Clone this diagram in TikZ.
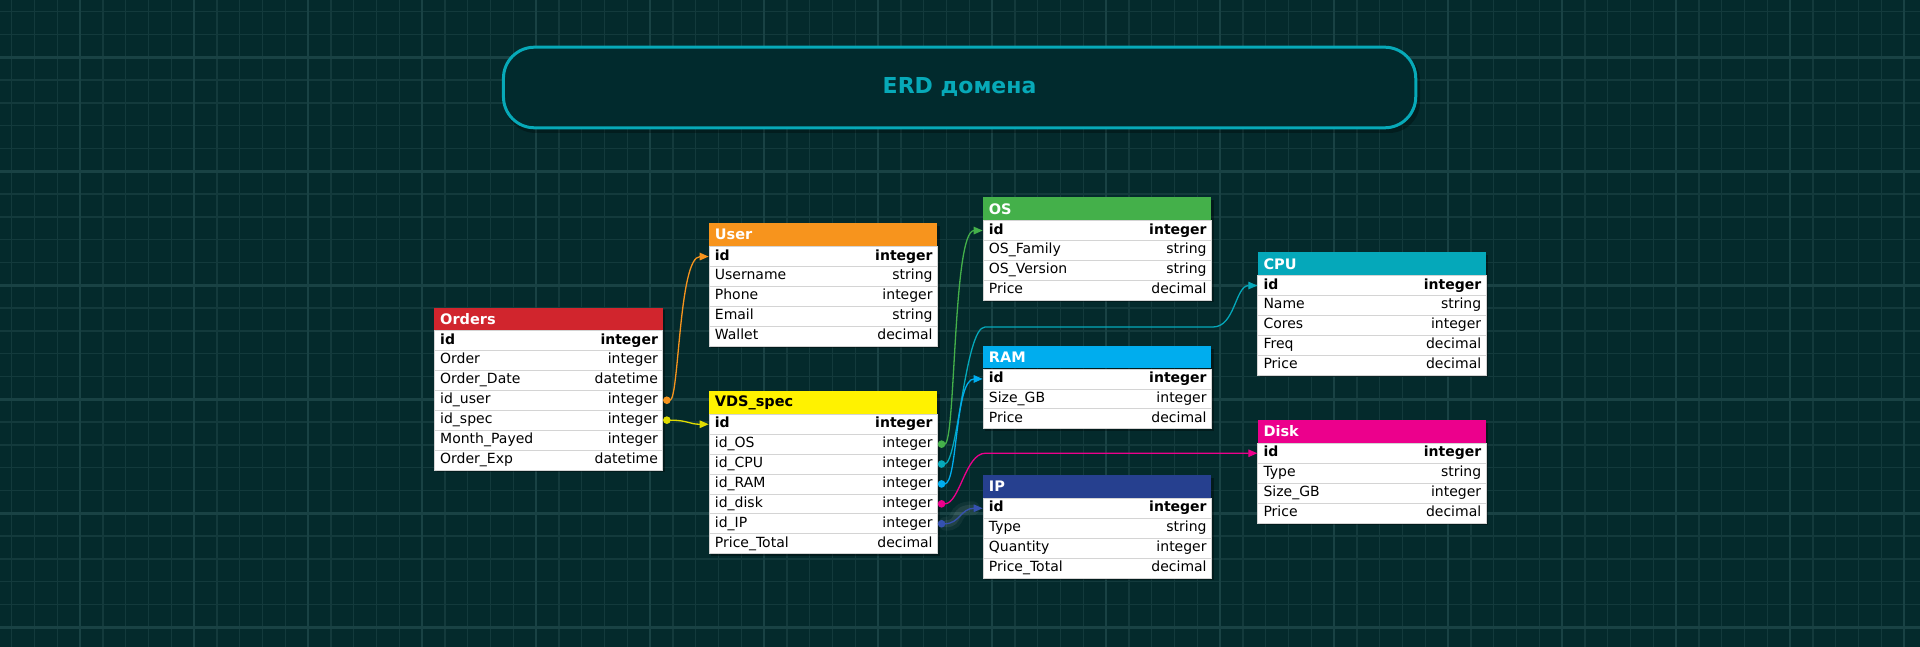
\documentclass[tikz,border=0pt]{standalone}
\usepackage{fontspec}
\setmainfont{DejaVu Sans}
\usetikzlibrary{arrows.meta,calc}
\definecolor{bg}{HTML}{042A2C}
\definecolor{gridminor}{HTML}{133A3C}
\definecolor{gridmajor}{HTML}{194244}
\definecolor{titlec}{HTML}{07A9B8}
\definecolor{titlefill}{HTML}{012A2D}
\definecolor{rowline}{HTML}{D4D4D4}
\definecolor{cred}{HTML}{D1252D}
\definecolor{corange}{HTML}{F7941D}
\definecolor{cyellow}{HTML}{FFF200}
\definecolor{cyline}{HTML}{E0DC00}
\definecolor{cgreen}{HTML}{44B04A}
\definecolor{cteal}{HTML}{05A8BA}
\definecolor{cblue}{HTML}{00ADEE}
\definecolor{cmag}{HTML}{EC008C}
\definecolor{cnavy}{HTML}{26408F}
\definecolor{cnavyline}{HTML}{3551B0}
\tikzset{
  hdr/.style={rectangle, anchor=north west, inner xsep=6pt, inner ysep=0pt,
    text width=216.3pt, minimum height=22.5pt, align=left,
    font=\fontsize{14.5}{16}\selectfont\bfseries},
  rowbox/.style={rectangle, anchor=north west, minimum width=228.3pt,
    minimum height=19.9pt, inner sep=0pt, fill=white, draw=rowline, line width=0.8pt},
  cell/.style={inner sep=0pt, text height=10pt, text depth=3pt, text=black,
    font=\fontsize{14}{15}\selectfont},
  keycell/.style={cell, font=\fontsize{14}{15}\selectfont\bfseries},
  conn/.style={line width=1.3pt, {Circle[length=7.5pt]}-{Triangle[length=9pt,width=7.5pt]}},
  tabshadow/.style={fill=black, opacity=0.35},
  titlebox/.style={rectangle, rounded corners=31pt, draw=titlec, line width=3pt,
    fill=titlefill, minimum width=912.3pt, minimum height=80.6pt, text=titlec,
    font=\fontsize{22}{26}\selectfont\bfseries},
  glow/.style={white, line cap=round}
}
\newcommand\erdtab[7]{% name, x, y, fill, text colour, title, rows
  \fill[tabshadow] ({#2+2.5},{#3+3}) rectangle ({#2+230.8},{#3+3+22.5+19.9*#7});
  \node[hdr, fill=#4, text=#5] (#1) at (#2,#3) {#6};
}
\newcommand\erdrow[5]{% table, index, field, type, style
  \node[rowbox] (#1-r#2) at ($(#1.south west)+(0,{19.9*#2})$) {};
  \node[#5, anchor=west] (#1-r#2-n) at ([xshift=6pt]#1-r#2.west) {#3};
  \node[#5, anchor=east] (#1-r#2-t) at ([xshift=-5pt]#1-r#2.east) {#4};
}
\begin{document}
\begin{tikzpicture}[x=1pt,y=-1pt]
\useasboundingbox (0,0) rectangle (1920,647);
\fill[bg] (0,0) rectangle (1920,647);
% grid
\foreach \k in {-3,...,80} \draw[gridminor, line width=1.4pt] ({80+22.8*\k},0) -- ++(0,647);
\foreach \k in {-2,...,26} \draw[gridminor, line width=1.4pt] (0,{57.33+22.8*\k}) -- ++(1920,0);
\foreach \k in {-1,...,16} \draw[gridmajor, line width=2.4pt] ({80+114*\k},0) -- ++(0,647);
\foreach \k in {-1,...,5} \draw[gridmajor, line width=2.4pt] (0,{57.33+114*\k}) -- ++(1920,0);

% title
\fill[black, opacity=0.3, rounded corners=31pt] (504.5,50) rectangle (1420,133);
\node[titlebox] (title) at (959.6,87.5) {ERD домена};

% Orders
\erdtab{Orders}{434}{307.3}{cred}{white}{Orders}{7}
\erdrow{Orders}{0}{id}{integer}{keycell}
\erdrow{Orders}{1}{Order}{integer}{cell}
\erdrow{Orders}{2}{Order\_Date}{datetime}{cell}
\erdrow{Orders}{3}{id\_user}{integer}{cell}
\erdrow{Orders}{4}{id\_spec}{integer}{cell}
\erdrow{Orders}{5}{Month\_Payed}{integer}{cell}
\erdrow{Orders}{6}{Order\_Exp}{datetime}{cell}

% User
\erdtab{User}{708.7}{223.3}{corange}{white}{User}{5}
\erdrow{User}{0}{id}{integer}{keycell}
\erdrow{User}{1}{Username}{string}{cell}
\erdrow{User}{2}{Phone}{integer}{cell}
\erdrow{User}{3}{Email}{string}{cell}
\erdrow{User}{4}{Wallet}{decimal}{cell}

% VDS_spec
\erdtab{VDS}{708.7}{391}{cyellow}{black}{VDS\_spec}{7}
\erdrow{VDS}{0}{id}{integer}{keycell}
\erdrow{VDS}{1}{id\_OS}{integer}{cell}
\erdrow{VDS}{2}{id\_CPU}{integer}{cell}
\erdrow{VDS}{3}{id\_RAM}{integer}{cell}
\erdrow{VDS}{4}{id\_disk}{integer}{cell}
\erdrow{VDS}{5}{id\_IP}{integer}{cell}
\erdrow{VDS}{6}{Price\_Total}{decimal}{cell}

% OS
\erdtab{OS}{982.7}{197.3}{cgreen}{white}{OS}{4}
\erdrow{OS}{0}{id}{integer}{keycell}
\erdrow{OS}{1}{OS\_Family}{string}{cell}
\erdrow{OS}{2}{OS\_Version}{string}{cell}
\erdrow{OS}{3}{Price}{decimal}{cell}

% RAM
\erdtab{RAM}{982.7}{345.7}{cblue}{white}{RAM}{3}
\erdrow{RAM}{0}{id}{integer}{keycell}
\erdrow{RAM}{1}{Size\_GB}{integer}{cell}
\erdrow{RAM}{2}{Price}{decimal}{cell}

% IP
\erdtab{IP}{982.7}{475}{cnavy}{white}{IP}{4}
\erdrow{IP}{0}{id}{integer}{keycell}
\erdrow{IP}{1}{Type}{string}{cell}
\erdrow{IP}{2}{Quantity}{integer}{cell}
\erdrow{IP}{3}{Price\_Total}{decimal}{cell}

% CPU
\erdtab{CPU}{1257.3}{252.3}{cteal}{white}{CPU}{5}
\erdrow{CPU}{0}{id}{integer}{keycell}
\erdrow{CPU}{1}{Name}{string}{cell}
\erdrow{CPU}{2}{Cores}{integer}{cell}
\erdrow{CPU}{3}{Freq}{decimal}{cell}
\erdrow{CPU}{4}{Price}{decimal}{cell}

% Disk
\erdtab{Disk}{1257.3}{420}{cmag}{white}{Disk}{4}
\erdrow{Disk}{0}{id}{integer}{keycell}
\erdrow{Disk}{1}{Type}{string}{cell}
\erdrow{Disk}{2}{Size\_GB}{integer}{cell}
\erdrow{Disk}{3}{Price}{decimal}{cell}

% helper coordinates
\coordinate (cpuA) at (985,327);
\coordinate (cpuB) at (1213,327);
\coordinate (diskA) at ([xshift=-272pt]Disk-r0.west);

% connectors
\draw[conn, corange] (Orders-r3.east) .. controls +(16,0) and +(-30,0) .. (User-r0.west);
\draw[conn, cyline] (Orders-r4.east) .. controls +(25,0) and +(-20,0) .. (VDS-r0.west);
\draw[conn, cgreen] (VDS-r1.east) .. controls +(18,0) and +(-30,0) .. (OS-r0.west);
\draw[conn, cteal] (VDS-r2.east) .. controls +(20,0) and +(-20,0) .. (cpuA) -- (cpuB)
  .. controls +(22,0) and +(-22,0) .. (CPU-r0.west);
\draw[conn, cblue] (VDS-r3.east) .. controls +(20,0) and +(-28,0) .. (RAM-r0.west);
\draw[conn, cmag] (VDS-r4.east) .. controls +(22,0) and +(-20,0) .. (diskA) -- (Disk-r0.west);
\draw[glow, opacity=0.05, line width=14pt] ([xshift=8pt]VDS-r5.east) .. controls +(16,0) and +(-22,0) .. ([xshift=-10pt]IP-r0.west);
\draw[glow, opacity=0.08, line width=7pt] ([xshift=8pt]VDS-r5.east) .. controls +(16,0) and +(-22,0) .. ([xshift=-10pt]IP-r0.west);
\draw[conn, cnavyline] (VDS-r5.east) .. controls +(22,0) and +(-22,0) .. (IP-r0.west);
\end{tikzpicture}
\end{document}
